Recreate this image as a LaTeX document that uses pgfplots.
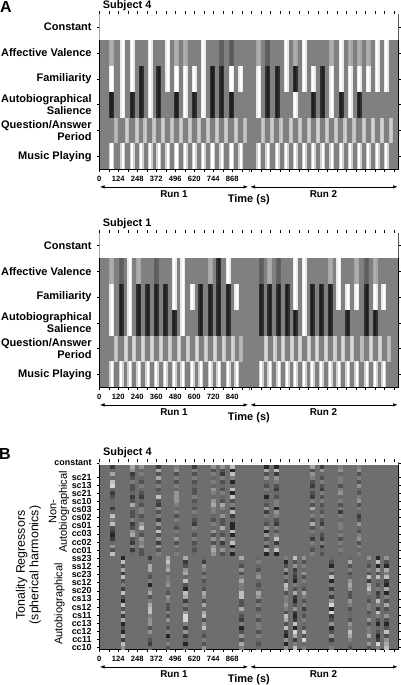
\documentclass[border=0pt]{standalone}
\usepackage{fontspec}
\setmainfont{Liberation Sans}
\usepackage{pgfplots}
\usepackage{pgfplotstable}
\pgfplotsset{compat=1.18}
\usetikzlibrary{arrows.meta}

\pgfdeclareplotmark{cell}{%
  \pgfpathrectangle{\pgfpoint{-\pgfplotmarksize}{-\pgfplotmarksize}}{\pgfpoint{2\pgfplotmarksize}{2\pgfplotmarksize}}%
  \pgfusepathqfill}

% t = centre of the music excerpt (s); gray levels of the regressors
\pgfplotstableread{
t AV Fam Auto Q
79.6 .68 1 .12 .72
153.4 1 1 1 .8
214.7 1 1 .12 .8
272.1 .5 .12 .12 .8
330.9 1 1 1 .8
387.6 .5 .12 .12 .8
446.4 1 1 .5 .78
503.8 .68 1 .12 .8
561.2 .68 1 1 .8
620 .5 1 .12 .8
678.7 1 1 1 .8
738.7 .5 .12 .12 .8
798.8 .36 .12 .12 .8
862.7 .36 1 .12 .8
923.4 .5 1 .5 .76
1040.2 .68 1 1 .78
1099 .36 .12 .12 .8
1159.7 .5 .12 .12 .8
1219.7 1 1 .5 .8
1279.1 .68 .12 1 .8
1337.9 1 1 .5 .8
1396.6 .5 1 .12 .82
1457.9 .5 .12 .12 .8
1516.7 .68 1 1 .8
1577.4 1 1 .12 .82
1636.1 .68 1 1 .8
1696.8 .68 1 .12 .8
1755.5 .68 1 .5 .82
1814.3 1 1 .5 .82
1873 1 1 .5 .8
}\Sfour
\pgfplotstableread{
t AV Fam Auto Q
78.9 .68 1 1 .78
138.3 .36 .12 .12 .84
192.6 1 1 1 .84
249.5 .68 .12 .12 .84
305.7 .5 .12 .12 .84
360 .36 .12 .12 .84
415 .5 .12 .12 .84
473.7 1 1 .12 .84
528.6 1 1 1 .84
587.4 .5 1 .5 .84
642.3 .5 .12 .12 .84
701 .68 .12 .12 .84
756 .14 .12 .12 .84
812.9 1 .12 .12 .84
867.8 .5 1 .5 .72
1023.2 .36 .12 .12 .84
1078.1 .68 .12 .12 .84
1133.1 .36 .12 .12 .84
1187.4 .5 .12 .12 .84
1238 1 1 .12 .84
1294.8 1 1 1 .84
1345.3 .5 .12 .12 .84
1402.2 .5 .12 .12 .84
1457.1 .68 .12 .12 .84
1512 1 1 .5 .84
1568.9 .5 1 .12 .84
1627.6 .68 1 .5 .76
1688.9 .36 .12 .12 .84
1743.2 .68 1 .12 .84
1798.1 .5 1 .5 .76
}\Sone

% Panel B: gray level x 10 at 24 heights, one column per excerpt
\pgfplotstableread{
y a b c d e f g h i j k l m n o
23.24 2 7 6 2 5 2 6 6 8 1 1 7 2 5 5
22.77 4 6 4 7 6 5 3 3 1 7 8 3 6 6 6
22.31 7 2 5 3 3 3 5 2 8 3 2 6 4 4 3
21.84 4 3 4 7 5 5 4 5 5 6 6 5 3 5 5
21.37 8 5 3 3 3 3 5 3 1 4 5 3 5 5 3
20.90 9 3 5 5 5 4 4 4 4 3 3 2 3 3 6
20.44 4 3 4 3 4 3 6 3 8 5 2 4 2 5 4
19.97 2 4 3 4 6 3 5 5 1 4 4 3 5 6 3
19.50 3 2 2 8 6 5 4 4 8 1 3 2 3 4 5
19.03 4 3 4 3 6 3 6 3 3 4 5 5 5 5 6
18.57 4 7 3 2 5 4 7 7 5 3 5 3 3 3 3
18.10 2 4 5 6 4 3 5 5 2 6 1 7 4 5 5
17.63 4 3 5 3 5 5 5 4 8 2 6 4 3 2 4
17.16 8 3 3 5 3 4 4 6 2 5 5 5 5 5 2
16.70 5 5 4 2 5 3 3 3 4 4 3 3 3 4 3
16.23 8 2 6 6 4 2 5 3 1 3 2 7 2 5 6
15.76 3 3 8 3 3 5 4 7 1 6 5 3 5 5 4
15.29 2 6 4 8 5 4 6 4 8 1 3 5 4 4 3
14.83 1 7 3 3 4 3 3 3 1 6 5 4 3 5 5
14.36 2 3 6 6 6 5 6 6 5 3 8 2 2 3 6
13.89 4 2 5 2 3 3 3 2 8 5 2 5 5 5 3
13.42 6 5 6 6 5 4 6 4 1 2 5 4 2 4 5
12.96 3 2 3 3 4 3 7 6 5 7 8 3 4 5 4
12.49 8 4 3 5 5 4 6 3 1 1 1 5 3 4 5
}\Upper
\pgfplotstableread{
y a b c d e f g h i j k l m n o
12.03 1 2 7 7 4 7 4 5 8 6 4 4 6 1 6
11.55 8 4 8 2 2 4 5 1 3 3 3 7 4 8 3
11.07 3 7 6 3 6 3 4 3 6 5 1 3 3 1 1
10.59 7 7 7 6 5 6 3 6 2 4 5 5 5 7 7
10.11 2 4 4 7 3 3 5 2 3 6 3 3 3 3 5
9.63 8 3 5 4 5 5 6 5 2 3 8 4 8 8 8
9.15 3 5 5 8 3 7 4 3 1 5 1 6 2 4 2
8.67 5 1 6 3 4 5 3 8 5 4 5 7 7 3 1
8.19 2 5 4 1 3 5 4 7 3 3 2 6 8 5 7
7.71 8 7 3 8 7 8 7 3 7 7 5 3 5 2 1
7.23 3 3 6 7 6 8 6 5 2 5 2 3 4 3 5
6.75 1 5 5 2 3 3 3 5 1 3 6 6 3 8 3
6.27 8 7 3 5 7 3 5 6 3 5 9 5 5 5 7
5.79 3 8 3 3 4 7 3 5 6 2 1 3 5 2 3
5.31 7 8 5 6 7 4 4 3 2 4 9 4 3 8 4
4.83 2 5 3 9 8 3 5 8 1 3 2 4 4 5 6
4.35 7 6 6 9 3 2 3 7 2 5 3 3 6 3 3
3.87 1 6 4 5 6 5 5 3 8 4 6 6 3 1 1
3.39 3 3 3 2 8 1 5 8 1 3 1 5 5 4 3
2.91 1 6 5 6 4 3 3 2 9 8 3 8 5 3 8
2.43 7 4 1 2 3 6 5 1 7 3 6 7 7 1 3
1.95 2 3 4 4 5 3 4 6 2 9 2 5 4 2 6
1.47 8 2 5 1 3 7 3 1 5 4 4 4 6 9 7
0.99 6 4 3 4 6 5 4 6 8 5 5 3 3 5 8
}\Lower

\pgfplotsset{
  colormap={bw}{gray(0cm)=(0); gray(1cm)=(1)},
  every axis/.append style={
    scale only axis, anchor=south west, width=299pt, xmin=0,
    axis line style={line width=.4pt}, tick style={black,line width=.4pt},
    tick align=outside, major tick length=2.6pt,
    xtick pos=both, ytick pos=both,
    xticklabel pos=bottom, yticklabel pos=left,
    colormap name=bw, point meta min=0, point meta max=1,
    xticklabel style={font=\fontsize{7.6}{8}\selectfont\bfseries, yshift=-1.2pt},
  },
  rects/.style 2 args={scatter, only marks, mark=cell, mark size=1pt,
    point meta=explicit,
    scatter/use mapped color={draw=mapped color, fill=mapped color},
    mark options={xscale=#1, yscale=#2}},
  panelA/.style={
    height=#1, ymin=0, ymax=6,
    axis background/.style={fill=black!50},
    ytick={.5,1.5,2.5,3.5,4.5,5.5},
    yticklabels={Music Playing,{Question/Answer\\Period},{Autobiographical\\Salience},Familiarity,Affective Valence,Constant},
    yticklabel style={align=right, font=\fontsize{11}{12}\selectfont\bfseries, xshift=-1.6pt},
  },
}

\newcommand\regressors[1]{%
  \addplot[fill=white, draw=none] coordinates {(0,5) (2000,5) (2000,6) (0,6)} -- cycle;
  \addplot[rects={2.5}{12.97}] table[x=t, y expr=4.5, meta expr={.5+(\thisrow{AV}-.5)*.82}] {#1};
  \addplot[rects={1.1}{12.97}] table[x=t, y expr=4.5, meta=AV] {#1};
  \addplot[rects={2.5}{12.97}] table[x=t, y expr=3.5, meta expr={.5+(\thisrow{Fam}-.5)*.82}] {#1};
  \addplot[rects={1.1}{12.97}] table[x=t, y expr=3.5, meta=Fam] {#1};
  \addplot[rects={2.5}{12.97}] table[x=t, y expr=2.5, meta expr={.5+(\thisrow{Auto}-.5)*.82}] {#1};
  \addplot[rects={1.1}{12.97}] table[x=t, y expr=2.5, meta=Auto] {#1};
  \addplot[rects={2.0}{12.97}] table[x expr=\thisrow{t}+29, y expr=1.5, meta expr=.5+(\thisrow{Q}-.5)*.82] {#1};
  \addplot[rects={.9}{12.97}] table[x expr=\thisrow{t}+29, y expr=1.5, meta=Q] {#1};
  \addplot[rects={2.5}{12.97}] table[x=t, y expr=.5, meta expr=.82] {#1};
  \addplot[rects={1.1}{12.97}] table[x=t, y expr=.5, meta expr=1] {#1};
}
\newcommand\ev[4]{\addplot[rects={2.3}{#4}] table[x expr=#2, y=y, meta expr=.43+(\thisrow{#3}/10-.43)*.85] {#1};}

\newcommand\below[1]{%
  \draw[line width=.4pt] (248.8pt,-#1pt-3pt) -- (250pt,-#1pt);
  \draw[{Latex[length=4.5pt,width=3.4pt]}-{Latex[length=4.5pt,width=3.4pt]}, line width=.5pt] (100pt,-#1pt-17.6pt) -- (248pt,-#1pt-17.6pt);
  \draw[{Latex[length=4.5pt,width=3.4pt]}-{Latex[length=4.5pt,width=3.4pt]}, line width=.5pt] (250.5pt,-#1pt-17.6pt) -- (397.5pt,-#1pt-17.6pt);
  \node[font=\fontsize{9.9}{10}\selectfont\bfseries] at (174pt,-#1pt-24.6pt) {Run 1};
  \node[font=\fontsize{9.9}{10}\selectfont\bfseries] at (323.5pt,-#1pt-24.6pt) {Run 2};
  \node[font=\fontsize{11}{11}\selectfont\bfseries] at (248.8pt,-#1pt-30pt) {Time (s)};
}

\begin{document}
\begin{tikzpicture}
\useasboundingbox (0pt,0pt) rectangle (401pt,-685pt);

% ---------- Panel A, Subject 4
\begin{axis}[at={(99.3pt,-169.3pt)}, panelA=155.3pt, xmax=1951,
  xtick={0,62,...,1922},
  xticklabels={0,,124,,248,,372,,496,,620,,744,,868,,,,,,,,,,,,,,,,,}]
\regressors{\Sfour}
\end{axis}
\node[anchor=west, inner sep=0pt, font=\fontsize{10.9}{11}\selectfont\bfseries] at (102.7pt,-5.4pt) {Subject 4};
\node[font=\fontsize{16}{16}\selectfont\bfseries] at (6pt,-6.6pt) {A};
\below{169.3}

% ---------- Panel A, Subject 1
\begin{axis}[at={(99.3pt,-387.3pt)}, panelA=154.6pt, xmax=1888.5,
  xtick={0,60,...,1860},
  xticklabels={0,,120,,240,,360,,480,,600,,720,,840,,,,,,,,,,,,,,,,,}]
\regressors{\Sone}
\end{axis}
\node[anchor=west, inner sep=0pt, font=\fontsize{10.9}{11}\selectfont\bfseries] at (102.7pt,-224pt) {Subject 1};
\below{387.3}

% ---------- Panel B
\begin{axis}[at={(99.3pt,-649.3pt)}, height=187.3pt, xmax=1951,
  ymin=0.8, ymax=23.84,
  axis background/.style={fill=black!57},
  xtick={0,62,...,1922},
  xticklabels={0,,124,,248,,372,,496,,620,,744,,868,,,,,,,,,,,,,,,,,},
  ytick={1,2,...,22,23.75},
  yticklabels={cc10,cc11,cc12,cc13,cs11,cs12,cs13,sc20,sc12,sc23,ss12,ss23,cc01,cc02,cc03,cs01,cs02,cs03,sc10,sc21,sc13,sc21,constant},
  yticklabel style={font=\fontsize{8.9}{9}\selectfont\bfseries, xshift=-1.6pt},
]
\addplot[fill=white, draw=none] coordinates {(0,23.45) (2000,23.45) (2000,24) (0,24)} -- cycle;
\ev{\Upper}{87.4}{a}{2.0}\ev{\Upper}{215.4}{b}{2.0}\ev{\Upper}{276.7}{c}{2.0}\ev{\Upper}{387.6}{d}{2.0}\ev{\Upper}{505.1}{e}{2.0}
\ev{\Upper}{622.6}{f}{2.0}\ev{\Upper}{744}{g}{2.0}\ev{\Upper}{802.7}{h}{2.0}\ev{\Upper}{868}{i}{2.0}\ev{\Upper}{1092.5}{j}{2.0}
\ev{\Upper}{1157.7}{k}{2.0}\ev{\Upper}{1392.6}{l}{2.0}\ev{\Upper}{1453.4}{m}{2.0}\ev{\Upper}{1575.4}{n}{2.0}\ev{\Upper}{1694.8}{o}{2.0}
\ev{\Lower}{154.7}{a}{2.05}\ev{\Lower}{330.9}{b}{2.05}\ev{\Lower}{448.3}{c}{2.05}\ev{\Lower}{563.9}{d}{2.05}\ev{\Lower}{683.3}{e}{2.05}
\ev{\Lower}{929.3}{f}{2.05}\ev{\Lower}{1037.6}{g}{2.05}\ev{\Lower}{1218.4}{h}{2.05}\ev{\Lower}{1277.2}{i}{2.05}\ev{\Lower}{1335.9}{j}{2.05}
\ev{\Lower}{1516.7}{k}{2.05}\ev{\Lower}{1636.1}{l}{2.05}\ev{\Lower}{1760.1}{m}{2.05}\ev{\Lower}{1818.8}{n}{2.05}\ev{\Lower}{1875.6}{o}{2.05}
\end{axis}
\node[anchor=west, inner sep=0pt, font=\fontsize{10.9}{11}\selectfont\bfseries] at (103pt,-452.4pt) {Subject 4};
\node[font=\fontsize{16}{16}\selectfont\bfseries] at (5pt,-453.6pt) {B};
\below{649.3}
\node[rotate=90, align=center, font=\fontsize{12.4}{13.6}\selectfont] at (28.4pt,-565pt) {Tonality Regressors\\(spherical harmonics)};
\node[rotate=90, align=center, font=\fontsize{11}{10.4}\selectfont] at (59pt,-512pt) {Non-\\Autobiographical};
\node[rotate=90, font=\fontsize{11}{10.4}\selectfont] at (59.5pt,-604pt) {Autobiographical};
\end{tikzpicture}
\end{document}
